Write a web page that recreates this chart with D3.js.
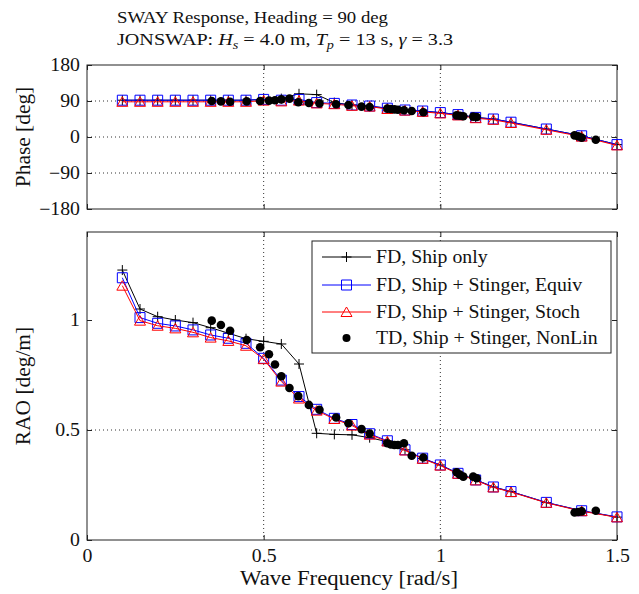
<!DOCTYPE html>
<html>
<head>
<meta charset="utf-8">
<script src="https://cdn.jsdelivr.net/npm/d3@7"></script>
<style>
    body { margin: 0; background: #fff; }
    text { font-family: "Liberation Serif", "DejaVu Serif", serif; fill: #111; }
</style>
</head>
<body>
<div id="chart"></div>
<script>
// frequencies of the frequency-domain runs [rad/s]
const freqFD = [0.1, 0.15, 0.2, 0.25, 0.3, 0.35, 0.4, 0.45, 0.5, 0.55, 0.6, 0.65, 0.7, 0.75,
    0.8, 0.85, 0.9, 0.95, 1.0, 1.05, 1.1, 1.15, 1.2, 1.3, 1.4, 1.5];

// RAO [deg/m]
const raoShip = [1.227, 1.05, 1.015, 1.0, 0.988, 0.965, 0.94, 0.915, 0.903, 0.891, 0.80, 0.485, 0.48,
    0.478, 0.465, 0.447, 0.41, 0.37, 0.341, 0.303, 0.274, 0.241, 0.22, 0.17, 0.133, 0.104];
const raoEquiv = [1.192, 1.011, 0.985, 0.973, 0.955, 0.932, 0.917, 0.894, 0.826, 0.727, 0.652, 0.594,
    0.553, 0.525, 0.483, 0.451, 0.41, 0.372, 0.341, 0.303, 0.273, 0.241, 0.22, 0.171, 0.133, 0.105];
const raoStoch = [1.156, 0.997, 0.974, 0.962, 0.944, 0.920, 0.905, 0.883, 0.822, 0.72, 0.643, 0.588,
    0.55, 0.52, 0.479, 0.448, 0.407, 0.369, 0.338, 0.301, 0.271, 0.239, 0.218, 0.169, 0.131, 0.103];

// Phase [deg]
const phaseShip = [92, 92, 92, 92, 92, 92, 92, 92, 94, 96, 108, 106, 86, 80, 77, 72, 67, 65, 61, 56,
    49, 45, 37, 20, 3, -19];
const phaseEquiv = [92, 92, 92, 92, 92, 92, 92, 92, 94, 92, 94, 86, 84, 80, 77.5, 72, 67.5, 65, 61, 56,
    49, 45, 37, 20, 3, -19];
const phaseStoch = [88, 88, 88, 88, 88, 88, 88, 88, 91, 89, 91, 84, 82, 78, 76, 70, 66, 63, 59, 54,
    47, 43, 35, 18, 1, -21];

// time-domain nonlinear simulation points
const freqTD = [0.353, 0.379, 0.405, 0.452, 0.49, 0.515, 0.532, 0.55, 0.573, 0.598, 0.628, 0.658,
    0.705, 0.74, 0.777, 0.80, 0.85, 0.86, 0.87, 0.88, 0.897, 0.919, 0.952, 1.046, 1.055, 1.065,
    1.093, 1.103, 1.38, 1.39, 1.40, 1.44];
const raoTD = [0.997, 0.977, 0.951, 0.909, 0.876, 0.844, 0.798, 0.744, 0.691, 0.654, 0.614, 0.592,
    0.557, 0.531, 0.504, 0.484, 0.44, 0.434, 0.432, 0.432, 0.44, 0.383, 0.375, 0.308, 0.297, 0.288,
    0.288, 0.281, 0.125, 0.127, 0.13, 0.133];
const phaseTD = [90, 89, 88, 89, 90, 91, 92, 94, 96, 87, 85, 84, 82, 80, 76, 75, 71, 70, 69, 68,
    67, 65, 62, 54, 53, 52, 51, 50, 4, 2, -2, -7];

const legendLabels = ["FD, Ship only", "FD, Ship + Stinger, Equiv", "FD, Ship + Stinger, Stoch",
    "TD, Ship + Stinger, NonLin"];
const phaseTicks = [-180, -90, 0, 90, 180];
const raoTicks = [0, 0.5, 1];
const freqTicks = [0, 0.5, 1, 1.5];

const width = 639;
const height = 594;
const svg = d3.select("#chart").append("svg")
    .attr("width", width)
    .attr("height", height);

const x = d3.scaleLinear().domain([0, 1.5]).range([87, 617]);
const yPhase = d3.scaleLinear().domain([-180, 180]).range([209, 65]);
const yRao = d3.scaleLinear().domain([0, 1.4]).range([540, 232]);

const fdSeries = [
    { color: "#000", marker: "plus", phase: phaseShip, rao: raoShip },
    { color: "#0000ff", marker: "square", phase: phaseEquiv, rao: raoEquiv },
    { color: "#ff0000", marker: "triangle", phase: phaseStoch, rao: raoStoch }
];

function markerPath(type) {
    if (type === "plus") return "M-5,0H5M0,-5V5";
    if (type === "square") return "M-5,-5H5V5H-5Z";
    return "M0,-5L5.5,4.5H-5.5Z";
}

// the original uses a wider TeX-like face, so widen the Times glyphs a bit
function widen(sel, factor) {
    sel.each(function () {
        const w = this.getComputedTextLength();
        if (w > 0) {
            d3.select(this)
                .attr("textLength", w * factor)
                .attr("lengthAdjust", "spacingAndGlyphs");
        }
    });
}

function fitTo(sel, length) {
    sel.attr("textLength", length).attr("lengthAdjust", "spacingAndGlyphs");
}

function drawPanel(y, yTicks, key, showX) {
    const g = svg.append("g");

    // dotted grid
    g.selectAll(".gx").data(freqTicks.slice(1, -1)).enter().append("line")
        .attr("x1", d => x(d)).attr("x2", d => x(d))
        .attr("y1", y.range()[1]).attr("y2", y.range()[0])
        .attr("stroke", "#333").attr("stroke-dasharray", "1,3");
    g.selectAll(".gy").data(yTicks.slice(1, -1)).enter().append("line")
        .attr("x1", x.range()[0]).attr("x2", x.range()[1])
        .attr("y1", d => y(d)).attr("y2", d => y(d))
        .attr("stroke", "#333").attr("stroke-dasharray", "1,3");

    // axes with inward ticks on all four sides
    const left = g.append("g").attr("transform", `translate(${x.range()[0]},0)`)
        .call(d3.axisLeft(y).tickValues(yTicks).tickSize(-5).tickPadding(7).tickFormat(d3.format("")));
    g.append("g").attr("transform", `translate(${x.range()[1]},0)`)
        .call(d3.axisRight(y).tickValues(yTicks).tickSize(-5).tickFormat(""));
    const bottom = g.append("g").attr("transform", `translate(0,${y.range()[0]})`)
        .call(d3.axisBottom(x).tickValues(freqTicks).tickSize(-5).tickPadding(9)
            .tickFormat(showX ? d3.format("") : ""));
    g.append("g").attr("transform", `translate(0,${y.range()[1]})`)
        .call(d3.axisTop(x).tickValues(freqTicks).tickSize(-5).tickFormat(""));
    g.selectAll(".domain").remove();
    g.selectAll(".tick line").attr("stroke", "#222");
    [left, bottom].forEach(a => {
        const t = a.selectAll("text")
            .attr("font-family", "Liberation Serif").attr("font-size", 18).attr("fill", "#111");
        widen(t, 1.1);
    });

    g.append("rect")
        .attr("x", x.range()[0]).attr("y", y.range()[1])
        .attr("width", x.range()[1] - x.range()[0])
        .attr("height", y.range()[0] - y.range()[1])
        .attr("fill", "none").attr("stroke", "#222");

    // FD series: line + markers
    fdSeries.forEach(s => {
        const pts = freqFD.map((f, i) => [x(f), y(s[key][i])]);
        g.append("path")
            .attr("d", d3.line()(pts))
            .attr("fill", "none").attr("stroke", s.color).attr("stroke-width", 1);
        g.selectAll(null).data(pts).enter().append("path")
            .attr("transform", d => `translate(${d[0]},${d[1]})`)
            .attr("d", markerPath(s.marker))
            .attr("fill", "none").attr("stroke", s.color).attr("stroke-width", 1);
    });

    // TD dots
    const td = key === "rao" ? raoTD : phaseTD;
    g.selectAll(null).data(freqTD).enter().append("circle")
        .attr("cx", d => x(d))
        .attr("cy", (d, i) => y(td[i]))
        .attr("r", 4.3)
        .attr("fill", "#000");
    return g;
}

drawPanel(yPhase, phaseTicks, "phase", false);
drawPanel(yRao, raoTicks, "rao", true);

// axis labels
const yLabels = svg.append("g");
yLabels.append("text")
    .attr("transform", `translate(30,${(65 + 209) / 2}) rotate(-90)`)
    .attr("text-anchor", "middle").attr("font-size", 20)
    .text("Phase [deg]");
yLabels.append("text")
    .attr("transform", `translate(30,${(232 + 540) / 2}) rotate(-90)`)
    .attr("text-anchor", "middle").attr("font-size", 20)
    .text("RAO [deg/m]");
widen(yLabels.selectAll("text"), 1.07);

svg.append("text")
    .attr("x", 349).attr("y", 585)
    .attr("text-anchor", "middle").attr("font-size", 20)
    .text("Wave Frequency [rad/s]")
    .call(fitTo, 218);

// title (two lines, left aligned like the original)
svg.append("text")
    .attr("x", 117).attr("y", 23).attr("font-size", 17)
    .text("SWAY Response, Heading = 90 deg")
    .call(fitTo, 271);
const t2 = svg.append("text")
    .attr("x", 117).attr("y", 45).attr("font-size", 17)
    .style("white-space", "pre");
t2.append("tspan").text("JONSWAP: ");
t2.append("tspan").attr("font-style", "italic").text("H");
t2.append("tspan").attr("font-style", "italic").attr("font-size", 12).attr("dy", 4).text("s");
t2.append("tspan").attr("dy", -4).text(" = 4.0 m, ");
t2.append("tspan").attr("font-style", "italic").text("T");
t2.append("tspan").attr("font-style", "italic").attr("font-size", 12).attr("dy", 4).text("p");
t2.append("tspan").attr("dy", -4).text(" = 13 s, ");
t2.append("tspan").attr("font-style", "italic").text("γ");
t2.append("tspan").text(" = 3.3");
fitTo(t2, 336);

// legend
const legend = svg.append("g");
legend.append("rect")
    .attr("x", 312).attr("y", 241).attr("width", 299).attr("height", 112)
    .attr("fill", "#fff").attr("stroke", "#222");
const rowY = [257, 285, 312, 338];
legendLabels.forEach((label, i) => {
    const cy = rowY[i];
    if (i < 3) {
        const s = fdSeries[i];
        legend.append("line")
            .attr("x1", 322).attr("x2", 371).attr("y1", cy).attr("y2", cy)
            .attr("stroke", s.color);
        legend.append("path")
            .attr("transform", `translate(346.5,${cy})`)
            .attr("d", markerPath(s.marker))
            .attr("fill", "none").attr("stroke", s.color);
    } else {
        legend.append("circle")
            .attr("cx", 346.5).attr("cy", cy).attr("r", 4).attr("fill", "#000");
    }
    legend.append("text")
        .attr("x", 376).attr("y", cy + 6).attr("font-size", 18)
        .text(label);
});
widen(legend.selectAll("text"), 1.1);
</script>
</body>
</html>
